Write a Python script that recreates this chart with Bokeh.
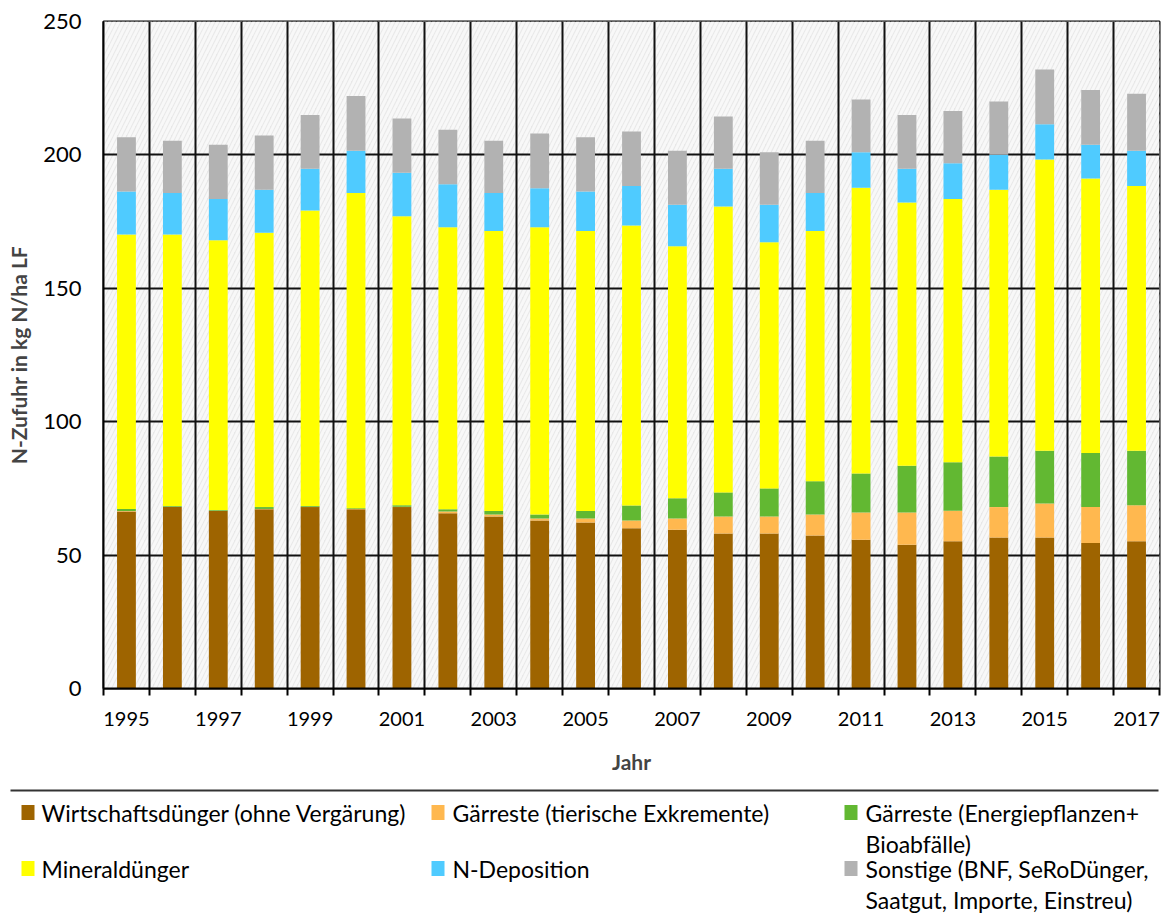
from bokeh.plotting import figure
from bokeh.models import FixedTicker, ColumnDataSource, Range1d
from bokeh.layouts import column
from bokeh.embed import file_html
from bokeh.resources import INLINE
from bokeh.core.properties import value

years = list(range(1995, 2018))
wirtschaft = [66.3, 68.0, 66.5, 67.2, 68.0, 67.2, 68.0, 65.7, 64.5, 63.0, 62.2, 60.1,
              59.5, 58.1, 58.1, 57.3, 55.8, 53.9, 55.2, 56.6, 56.6, 54.5, 55.2]
gaer_tier = [0.2, 0.1, 0.1, 0.1, 0.1, 0.1, 0.1, 0.6, 0.7, 0.7, 1.5, 2.9,
             4.2, 6.4, 6.4, 7.9, 10.2, 12.1, 11.4, 11.4, 12.7, 13.5, 13.5]
gaer_energie = [0.8, 0.3, 0.3, 0.7, 0.3, 0.3, 0.6, 0.9, 1.3, 1.5, 2.8, 5.6,
                7.6, 9.0, 10.5, 12.5, 14.6, 17.5, 18.2, 19.0, 19.8, 20.3, 20.4]
mineral = [102.9, 101.8, 101.1, 102.8, 110.8, 118.1, 108.3, 105.7, 105.0, 107.7, 105.0, 104.9,
           94.5, 107.2, 92.3, 93.8, 107.1, 98.7, 98.7, 99.9, 109.2, 102.9, 99.2]
deposition = [16.1, 15.5, 15.5, 16.1, 15.6, 15.9, 16.3, 16.1, 14.2, 14.6, 14.8, 14.8,
              15.5, 14.1, 14.0, 14.2, 13.3, 12.6, 13.4, 13.2, 13.2, 12.6, 13.3]
sonstige = [20.3, 19.6, 20.3, 20.4, 20.2, 20.5, 20.3, 20.4, 19.6, 20.5, 20.3, 20.5,
            20.3, 19.6, 19.7, 19.6, 19.8, 20.2, 19.6, 19.9, 20.5, 20.5, 21.3]

series_names = [
    "Wirtschaftsdünger (ohne Vergärung)",
    "Gärreste (tierische Exkremente)",
    "Gärreste (Energiepflanzen+\nBioabfälle)",
    "Mineraldünger",
    "N-Deposition",
    "Sonstige (BNF, SeRoDünger,\nSaatgut, Importe, Einstreu)",
]
colors = ["#9E6400", "#FFB84F", "#62B832", "#FFFF00", "#4FCBFF", "#B2B2B2"]
y_ticks = [0, 50, 100, 150, 200, 250]

FONT = "Lato"
n = len(years)
keys = ["s0", "s1", "s2", "s3", "s4", "s5"]
src = ColumnDataSource(dict(
    x=[i + 0.5 for i in range(n)],
    s0=wirtschaft, s1=gaer_tier, s2=gaer_energie, s3=mineral, s4=deposition, s5=sonstige,
))

p = figure(frame_width=1056, frame_height=667,
           x_range=Range1d(0, n), y_range=Range1d(y_ticks[0], y_ticks[-1]),
           output_backend="svg", toolbar_location=None,
           min_border_left=103, min_border_right=10, min_border_top=21, min_border_bottom=87)
p.frame_align = False
p.background_fill_color = "white"
p.border_fill_color = "white"
p.outline_line_color = "black"
p.outline_line_width = 2

p.quad(left=0, right=n, bottom=y_ticks[0], top=y_ticks[-1], fill_color="#e8e8e8",
       line_color=None, hatch_pattern="/", hatch_color="#f8f8f8",
       hatch_scale=9, hatch_weight=3, level="image")

p.vbar_stack(keys, x="x", width=0.41, source=src, fill_color=colors, line_color=None)

p.xgrid.ticker = FixedTicker(ticks=list(range(n + 1)))
p.xgrid.grid_line_color = "#111111"
p.xgrid.grid_line_width = 2
p.ygrid.ticker = FixedTicker(ticks=y_ticks)
p.ygrid.grid_line_color = "#111111"
p.ygrid.grid_line_width = 2

xa = p.xaxis[0]
xa.ticker = FixedTicker(ticks=[i + 0.5 for i in range(0, n, 2)], minor_ticks=list(range(n + 1)))
xa.major_label_overrides = {i + 0.5: str(years[i]) for i in range(0, n, 2)}
xa.major_tick_line_color = None
xa.minor_tick_line_color = "black"
xa.minor_tick_line_width = 2
xa.minor_tick_out = 7
xa.minor_tick_in = 0
xa.axis_line_color = "black"
xa.axis_line_width = 2
xa.major_label_standoff = 16
xa.major_label_text_font = FONT
xa.major_label_text_font_size = "20px"
xa.major_label_text_color = "black"
xa.axis_label = "Jahr"
xa.axis_label_text_font = FONT
xa.axis_label_text_font_style = "bold"
xa.axis_label_text_font_size = "21px"
xa.axis_label_standoff = 20

ya = p.yaxis[0]
ya.ticker = FixedTicker(ticks=y_ticks)
ya.major_tick_out = 0
ya.major_tick_in = 0
ya.minor_tick_line_color = None
ya.axis_line_color = "black"
ya.axis_line_width = 2
ya.major_label_standoff = 22
ya.major_label_text_font = FONT
ya.major_label_text_font_size = "22px"
ya.major_label_text_color = "black"
ya.axis_label = "N-Zufuhr in kg N/ha LF"
ya.axis_label_text_font = FONT
ya.axis_label_text_font_style = "bold"
ya.axis_label_text_font_size = "21px"
ya.axis_label_standoff = 9

# legend panel
LW, LH = 1169, 138
lf = figure(width=LW, height=LH, x_range=Range1d(0, LW), y_range=Range1d(LH, 0),
            output_backend="svg", toolbar_location=None, min_border=0,
            x_axis_type=None, y_axis_type=None)
lf.frame_align = False
lf.grid.visible = False
lf.outline_line_color = None
lf.background_fill_color = "white"
lf.border_fill_color = "white"
lf.segment(x0=[10], y0=[14], x1=[1158], y1=[14], line_color="#333333", line_width=2)

col_sq = [21, 431, 844]
col_tx = [41, 452, 865]
row_y = [36, 92]
line_gap = 31
sq_x, sq_y, sq_c = [], [], []
tx_x, tx_y, tx_t = [], [], []
for k, name in enumerate(series_names):
    r, c = divmod(k, 3)
    sq_x.append(col_sq[c] + 6.5)
    sq_y.append(row_y[r])
    sq_c.append(colors[k])
    for j, line in enumerate(name.split("\n")):
        tx_x.append(col_tx[c])
        tx_y.append(row_y[r] + j * line_gap)
        tx_t.append(line)
lf.rect(x=sq_x, y=sq_y, width=13, height=15, fill_color=sq_c, line_color=None)
lf.text(x=tx_x, y=tx_y, text=tx_t, text_font=value(FONT), text_font_size="23px",
        text_baseline="middle", text_align="left", text_color="black")

layout = column(p, lf, spacing=0)
open("out.html", "w").write(file_html(layout, INLINE))
